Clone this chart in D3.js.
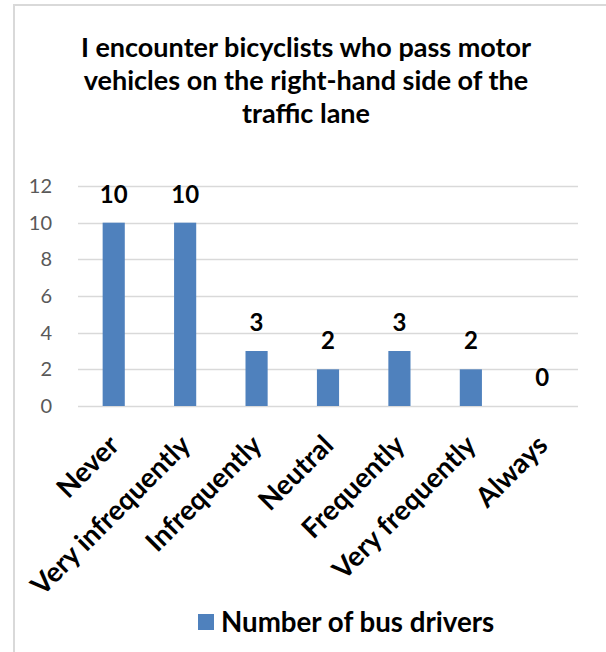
<!DOCTYPE html>
<html>
<head>
<meta charset="utf-8">
<script src="https://cdn.jsdelivr.net/npm/d3@7"></script>
<style>
  body { margin: 0; background: #fff; }
  text { font-family: Lato, "Open Sans", sans-serif; }
</style>
</head>
<body>
<div id="chart"></div>
<script>
const categories = ['Never', 'Very infrequently', 'Infrequently', 'Neutral', 'Frequently', 'Very frequently', 'Always'];
const busDrivers = [10, 10, 3, 2, 3, 2, 0];
const yTicks = [0, 2, 4, 6, 8, 10, 12];
const titleLines = [
  'I encounter bicyclists who pass motor',
  'vehicles on the right-hand side of the',
  'traffic lane'
];
const seriesName = 'Number of bus drivers';

const width = 606, height = 652;
const margin = { top: 186, left: 78, right: 28, bottom: 246 };
const blue = '#4f81bd';

const svg = d3.select('#chart').append('svg')
  .attr('width', width)
  .attr('height', height);

// frame of the chart area
svg.append('path')
  .attr('d', `M14,${height} V5 H${width}`)
  .attr('fill', 'none')
  .attr('stroke', '#d9d9d9')
  .attr('stroke-width', 2);

// title
svg.append('g').selectAll('text')
  .data(titleLines).enter()
  .append('text')
    .attr('x', 306)
    .attr('y', (d, i) => 57 + i * 33)
    .attr('text-anchor', 'middle')
    .attr('font-size', 27)
    .attr('font-weight', 'bold')
    .attr('fill', '#000')
    .text(d => d);

// scales
const x = d3.scaleBand()
  .domain(categories)
  .range([margin.left, width - margin.right])
  .paddingInner(0.69)
  .paddingOuter(0.345);
const y = d3.scaleLinear()
  .domain([0, 12])
  .range([height - margin.bottom, margin.top]);

// gridlines
svg.append('g').selectAll('line')
  .data(yTicks).enter()
  .append('line')
    .attr('x1', margin.left)
    .attr('x2', width - margin.right)
    .attr('y1', d => Math.round(y(d)) + 0.5)
    .attr('y2', d => Math.round(y(d)) + 0.5)
    .attr('stroke', '#d9d9d9')
    .attr('stroke-width', 1.5);

// y axis labels
const yAxis = svg.append('g')
  .attr('transform', `translate(${margin.left}, 0)`)
  .call(d3.axisLeft(y).tickValues(yTicks).tickSize(0).tickPadding(26));
yAxis.select('.domain').remove();
yAxis.selectAll('text')
  .attr('font-size', 20)
  .attr('fill', '#595959')
  .style('font-family', 'Lato, sans-serif');

// bars
svg.append('g').selectAll('rect')
  .data(busDrivers).enter()
  .append('rect')
    .attr('x', (d, i) => x(categories[i]))
    .attr('width', x.bandwidth())
    .attr('y', d => y(d))
    .attr('height', d => y(0) - y(d))
    .attr('fill', blue);

// data labels
svg.append('g').selectAll('text')
  .data(busDrivers).enter()
  .append('text')
    .attr('x', (d, i) => x(categories[i]) + x.bandwidth() / 2)
    .attr('y', d => y(d) - 20)
    .attr('text-anchor', 'middle')
    .attr('font-size', 24)
    .attr('font-weight', 'bold')
    .attr('fill', '#000')
    .text(d => d);

// x axis labels, rotated
const xAxis = svg.append('g')
  .attr('transform', `translate(0, ${y(0)})`)
  .call(d3.axisBottom(x).tickSize(0).tickPadding(0));
xAxis.select('.domain').remove();
xAxis.selectAll('text')
  .attr('font-size', 27.5)
  .attr('font-weight', 'bold')
  .attr('fill', '#000')
  .style('font-family', 'Lato, sans-serif')
  .attr('text-anchor', 'end')
  .attr('dy', 0)
  .attr('transform', 'translate(7, 41) rotate(-45)');

// legend
const legend = svg.append('g').attr('transform', 'translate(198, 614)');
legend.append('rect')
  .attr('width', 16)
  .attr('height', 16)
  .attr('fill', blue);
legend.append('text')
  .attr('x', 23)
  .attr('y', 18)
  .attr('font-size', 27.7)
  .attr('font-weight', 'bold')
  .attr('fill', '#000')
  .text(seriesName);
</script>
</body>
</html>
